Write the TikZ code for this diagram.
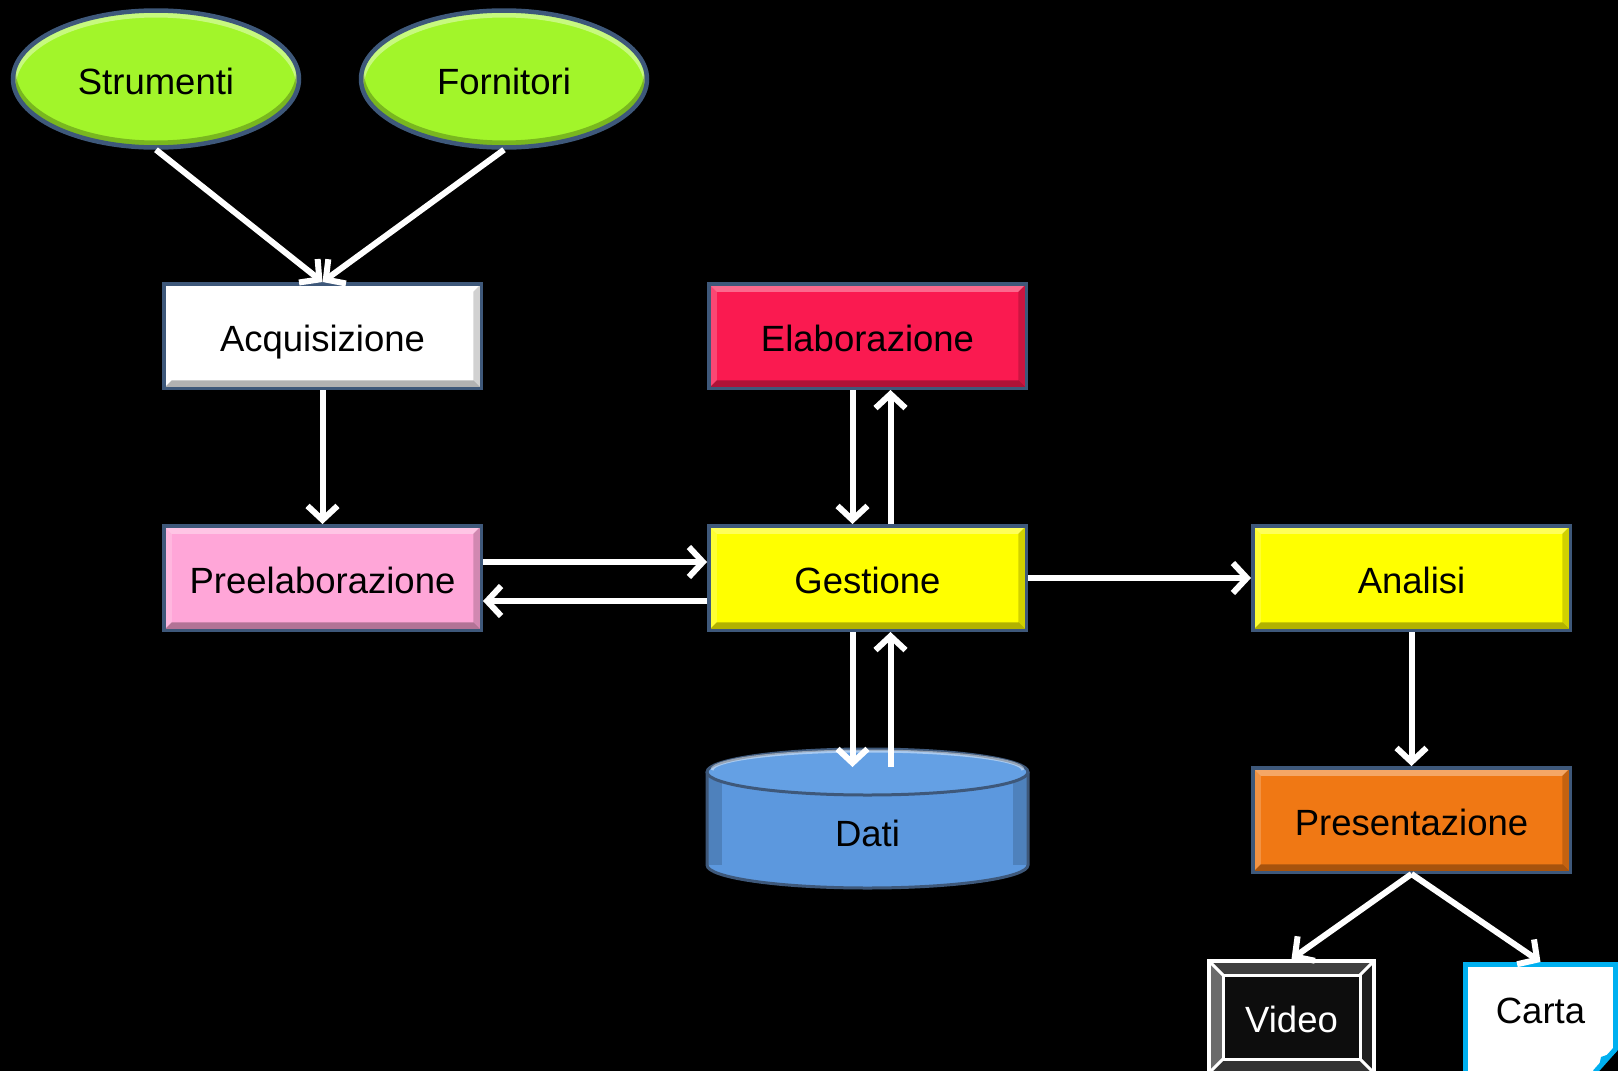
\documentclass[tikz,border=0pt]{standalone}
\usepackage{fontspec}
\setmainfont{Liberation Sans}
\usetikzlibrary{shapes.geometric,arrows.meta}
\definecolor{limec}{RGB}{162,245,42}
\definecolor{edgeblue}{RGB}{62,88,122}
\definecolor{pinkc}{RGB}{255,166,216}
\definecolor{crimc}{RGB}{250,26,80}
\definecolor{yelc}{RGB}{255,255,0}
\definecolor{orngc}{RGB}{240,120,20}
\definecolor{datic}{RGB}{92,152,222}
\definecolor{datitop}{RGB}{100,160,228}
\definecolor{cyanc}{RGB}{0,176,240}
\begin{document}
\begin{tikzpicture}[x=1pt,y=-1pt,
  bigfont/.style={font=\fontsize{36.5}{43}\selectfont, text height=32pt, text depth=2pt},
  bevel/.style={path picture={
    \fill[white,opacity=.35] (path picture bounding box.north west) -- (path picture bounding box.north east) -- ([shift={(-8,8)}]path picture bounding box.north east) -- ([shift={(8,8)}]path picture bounding box.north west) -- cycle;
    \fill[white,opacity=.2] (path picture bounding box.north west) -- ([shift={(8,8)}]path picture bounding box.north west) -- ([shift={(8,-8)}]path picture bounding box.south west) -- (path picture bounding box.south west) -- cycle;
    \fill[black,opacity=.3] (path picture bounding box.south west) -- (path picture bounding box.south east) -- ([shift={(-8,-8)}]path picture bounding box.south east) -- ([shift={(8,-8)}]path picture bounding box.south west) -- cycle;
    \fill[black,opacity=.18] (path picture bounding box.north east) -- (path picture bounding box.south east) -- ([shift={(-8,-8)}]path picture bounding box.south east) -- ([shift={(-8,8)}]path picture bounding box.north east) -- cycle;
  }},
  box/.style={rectangle, minimum width=317.5pt, minimum height=104.5pt, inner sep=0pt,
    draw=edgeblue, line width=3.5pt, bigfont, bevel},
  oval/.style={ellipse, minimum width=286pt, minimum height=137pt, inner sep=0pt,
    draw=edgeblue, line width=4.5pt, fill=limec, bigfont,
    path picture={
      \fill[white,opacity=.4,even odd rule] (path picture bounding box.center) ellipse[x radius=143.5, y radius=68.5] ([shift={(0,7)}]path picture bounding box.center) ellipse[x radius=140, y radius=68.5];
      \fill[black,opacity=.25,even odd rule] (path picture bounding box.center) ellipse[x radius=143.5, y radius=68.5] ([shift={(0,-7)}]path picture bounding box.center) ellipse[x radius=140, y radius=68.5];
    }},
  videobox/.style={rectangle, minimum width=165pt, minimum height=112pt, inner sep=0pt,
    draw=white, line width=4pt, fill=black, text=white, bigfont,
    path picture={
      \fill[black!75] (path picture bounding box.north west) -- (path picture bounding box.north east) -- ([shift={(-14,14)}]path picture bounding box.north east) -- ([shift={(14,14)}]path picture bounding box.north west) -- cycle;
      \fill[black!58] (path picture bounding box.north west) -- ([shift={(14,14)}]path picture bounding box.north west) -- ([shift={(14,-14)}]path picture bounding box.south west) -- (path picture bounding box.south west) -- cycle;
      \fill[black!88] (path picture bounding box.north east) -- (path picture bounding box.south east) -- ([shift={(-14,-14)}]path picture bounding box.south east) -- ([shift={(-14,14)}]path picture bounding box.north east) -- cycle;
      \fill[black!80] (path picture bounding box.south west) -- (path picture bounding box.south east) -- ([shift={(-14,-14)}]path picture bounding box.south east) -- ([shift={(14,-14)}]path picture bounding box.south west) -- cycle;
      \filldraw[fill=black!95, draw=white, line width=3pt] ([shift={(14,14)}]path picture bounding box.north west) rectangle ([shift={(-14,-14)}]path picture bounding box.south east);
      \draw[white, line width=3pt] (path picture bounding box.north west) -- ([shift={(14,14)}]path picture bounding box.north west)
        (path picture bounding box.north east) -- ([shift={(-14,14)}]path picture bounding box.north east)
        (path picture bounding box.south west) -- ([shift={(14,-14)}]path picture bounding box.south west)
        (path picture bounding box.south east) -- ([shift={(-14,-14)}]path picture bounding box.south east);
    }},
  cartabox/.style={rectangle, minimum width=150pt, minimum height=110pt, inner sep=0pt,
    draw=cyanc, line width=5pt, fill=white},
  arr/.style={draw=white, line width=6pt, -{Straight Barb[length=14pt,width=30pt]}}
]
\fill[black] (0,0) rectangle (1618,1071);
\useasboundingbox (0,0) rectangle (1618,1071);
\clip (0,0) rectangle (1618,1071);

% ovals
\node[oval] (strumenti) at (156,79) {Strumenti};
\node[oval] (fornitori) at (504,79) {Fornitori};

% boxes
\node[box, fill=white] (acq) at (322.5,336) {Acquisizione};
\node[box, fill=pinkc] (pre) at (322.5,578) {Preelaborazione};
\node[box, fill=crimc] (ela) at (867.5,336) {Elaborazione};
\node[box, fill=yelc] (ges) at (867.5,578) {Gestione};
\node[box, fill=yelc] (ana) at (1411.5,578) {Analisi};
\node[box, fill=orngc] (pres) at (1411.5,820) {Presentazione};

% Dati cylinder
\fill[datic] (707,772) rectangle (1028,865);
\fill[datic] (867.5,865) ellipse[x radius=160.5, y radius=23];
\fill[black,opacity=.15] (707,772) rectangle (722,865);
\fill[black,opacity=.15] (1013,772) rectangle (1028,865);
\draw[edgeblue, line width=3pt] (707,772) -- (707,865) arc[start angle=180, end angle=0, x radius=160.5, y radius=23] -- (1028,772);
\filldraw[fill=datitop, draw=edgeblue, line width=3pt] (867.5,772) ellipse[x radius=160.5, y radius=23];
\draw[white, opacity=.45, line width=3pt] (712,770) arc[start angle=180, end angle=360, x radius=155.5, y radius=19];
\node[bigfont] (dati) at (867.5,831) {Dati};
\coordinate (datiA) at (852.5,767);
\coordinate (datiB) at (890.5,767);

% Video and Carta
\node[videobox] (video) at (1291.5,1017) {Video};
\node[cartabox, label={[bigfont, yshift=11.5pt]center:Carta}] (carta) at (1540.5,1019.5) {};
\fill[black] (1618,1050) -- (1618,1075) -- (1594,1075) -- cycle;
\draw[cyanc, line width=5pt] (1615.5,1049) -- (1595,1072);
\fill[cyanc] (1615,1052) -- (1598,1071) -- (1601,1057) -- cycle;

% connectors
\draw[arr] (strumenti.south) -- (acq.north);
\draw[arr] (fornitori.south) -- (acq.north);
\draw[arr] (acq) -- (pre);
\draw[arr] ([yshift=16pt]pre.east) -- ([yshift=16pt]ges.west);
\draw[arr] ([yshift=-23pt]ges.west) -- ([yshift=-23pt]pre.east);
\draw[arr] ([xshift=-15pt]ela.south) -- ([xshift=-15pt]ges.north);
\draw[arr] ([xshift=23pt]ges.north) -- ([xshift=23pt]ela.south);
\draw[arr] ([xshift=-15pt]ges.south) -- (datiA);
\draw[arr] (datiB) -- ([xshift=23pt]ges.south);
\draw[arr] (ges) -- (ana);
\draw[arr] (ana) -- (pres);
\draw[arr] (pres.south) -- (video.north);
\draw[arr] (pres.south) -- (carta.north);
\end{tikzpicture}
\end{document}
